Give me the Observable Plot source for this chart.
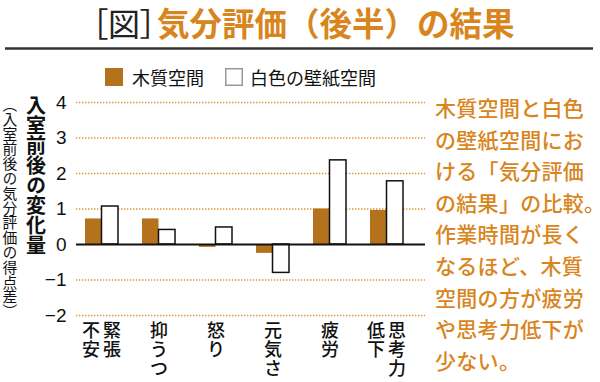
<!DOCTYPE html>
<html>
<head>
<meta charset="utf-8">
<script src="https://cdn.jsdelivr.net/npm/d3@7"></script>
<script src="https://cdn.jsdelivr.net/npm/@observablehq/plot@0.6"></script>
<style>
  html, body { margin: 0; padding: 0; background: #fff; }
  svg { display: block; overflow: visible; }
</style>
</head>
<body>
<div id="chart"></div>
<script>
// ---- data ----
const categories = ["緊張・不安", "抑うつ", "怒り", "元気さ", "疲労", "思考力低下"];
// label columns, read right-to-left (vertical writing)
const labelColumns = [["緊張", "不安"], ["抑うつ"], ["怒り"], ["元気さ"], ["疲労"], ["思考力", "低下"]];
const woodValues = [0.72, 0.72, -0.08, -0.25, 1.00, 0.96];
const whiteValues = [1.07, 0.41, 0.48, -0.80, 2.37, 1.78];
const yTicks = [-2, -1, 0, 1, 2, 3, 4];
const gridTicks = [-2, -1, 1, 2, 3, 4];
const seriesNames = ["木質空間", "白色の壁紙空間"];
const titleBracket = "［図］";
const titleMain = "気分評価（後半）の結果";
const yTitle = "入室前後の変化量";
const ySubtitle = "（入室前後の気分評価の得点差）";
const noteLines = ["木質空間と白色", "の壁紙空間にお", "ける「気分評価", "の結果」の比較。",
  "作業時間が長く", "なるほど、木質", "空間の方が疲労", "や思考力低下が", "少ない。"];

// ---- style ----
const brown = "#b5721c";
const orange = "#d9851d";
const gridColor = "#e0953a";
const cjk = "'Noto Sans CJK JP', 'Noto Sans', sans-serif";
const latin = "'Liberation Sans', Arial, 'Noto Sans CJK JP', sans-serif";

const rows = categories.map((c, i) => ({cat: c, wood: woodValues[i], white: whiteValues[i], cols: labelColumns[i]}));
const vert = s => s.split("").join("\n");
const singleCols = rows.filter(d => d.cols.length === 1).map(d => ({cat: d.cat, t: vert(d.cols[0])}));
const rightCols = rows.filter(d => d.cols.length === 2).map(d => ({cat: d.cat, t: vert(d.cols[0])}));
const leftCols = rows.filter(d => d.cols.length === 2).map(d => ({cat: d.cat, t: vert(d.cols[1])}));

const W = 600, H = 382;
const mL = 76, mR = 175, mT = 102, mB = 67;
const step = (W - mL - mR) / (6 - 0.425 + 2 * 0.2526);
const bw = step * (1 - 0.425);
const half = bw / 2;

const labelFont = {fontSize: 18, fontFamily: cjk, fontWeight: 500, fill: "#111", lineAnchor: "top", lineHeight: 1.06, frameAnchor: "bottom", dy: 8};

const svg = Plot.plot({
  width: W, height: H,
  marginLeft: mL, marginRight: mR, marginTop: mT, marginBottom: mB,
  style: {fontFamily: latin, background: "transparent", overflow: "visible"},
  x: {type: "band", domain: categories, paddingInner: 0.425, paddingOuter: 0.2526, align: 0.3, axis: null},
  y: {domain: [-2, 4], axis: null},
  marks: [
    Plot.ruleY(gridTicks, {stroke: gridColor, strokeWidth: 1.7, strokeDasharray: "1.4 1.6"}),
    Plot.barY(rows, {x: "cat", y: "wood", fill: brown, insetRight: half}),
    Plot.barY(rows, {x: "cat", y: "white", fill: "#fff", stroke: "#111", strokeWidth: 1.5, insetLeft: half}),
    Plot.ruleY([0], {stroke: "#111", strokeWidth: 2}),
    Plot.axisY({ticks: yTicks, tickSize: 0, tickPadding: 10, fontSize: 19, fill: "#111",
      tickFormat: d => d < 0 ? "\u2212" + (-d) : String(d), label: null}),
    Plot.text(singleCols, {x: "cat", text: "t", ...labelFont}),
    Plot.text(rightCols, {x: "cat", text: "t", ...labelFont, dx: 10}),
    Plot.text(leftCols, {x: "cat", text: "t", ...labelFont, dx: -11})
  ]
});
document.getElementById("chart").appendChild(svg);

const s = d3.select(svg);
const g = s.append("g").attr("text-anchor", "start").style("text-anchor", "start");

// title
g.append("text").attr("x", 92).attr("y", 36)
  .style("font-family", cjk).style("font-size", "32px").style("font-weight", "400")
  .style("font-feature-settings", "'palt'").attr("fill", "#222").text(titleBracket);
g.append("text").attr("x", 157).attr("y", 36)
  .style("font-family", cjk).style("font-size", "32.5px").style("font-weight", "700")
  .attr("fill", orange).text(titleMain);

// rule under title
g.append("line").attr("x1", 5).attr("x2", 593).attr("y1", 48.5).attr("y2", 48.5)
  .attr("stroke", "#333").attr("stroke-width", 2.5);

// legend
g.append("rect").attr("x", 105).attr("y", 68).attr("width", 18).attr("height", 18).attr("fill", brown);
g.append("text").attr("x", 132).attr("y", 77).attr("dominant-baseline", "central")
  .style("font-family", cjk).style("font-size", "18px").attr("fill", "#111").text(seriesNames[0]);
g.append("rect").attr("x", 225.75).attr("y", 68.75).attr("width", 16.5).attr("height", 16.5)
  .attr("fill", "#fff").attr("stroke", "#999").attr("stroke-width", 1.5);
g.append("text").attr("x", 250).attr("y", 77).attr("dominant-baseline", "central")
  .style("font-family", cjk).style("font-size", "18px").attr("fill", "#111").text(seriesNames[1]);

// vertical y-axis titles
g.append("text").attr("x", 36).attr("y", 95)
  .style("writing-mode", "vertical-rl").style("font-family", cjk)
  .style("font-size", "20px").style("font-weight", "700").attr("fill", "#111").text(yTitle);
g.append("text").attr("x", 10).attr("y", 97)
  .style("writing-mode", "vertical-rl").style("font-family", cjk)
  .style("font-size", "14.8px").attr("fill", "#111").text(ySubtitle);

// side note
g.append("g").selectAll("text").data(noteLines).join("text")
  .attr("x", 435).attr("y", (d, i) => 107 + 31.6 * i).attr("dominant-baseline", "central")
  .style("font-family", cjk).style("font-size", "21px").style("font-weight", "500")
  .style("letter-spacing", "0.3px").attr("fill", orange).text(d => d);
</script>
</body>
</html>
